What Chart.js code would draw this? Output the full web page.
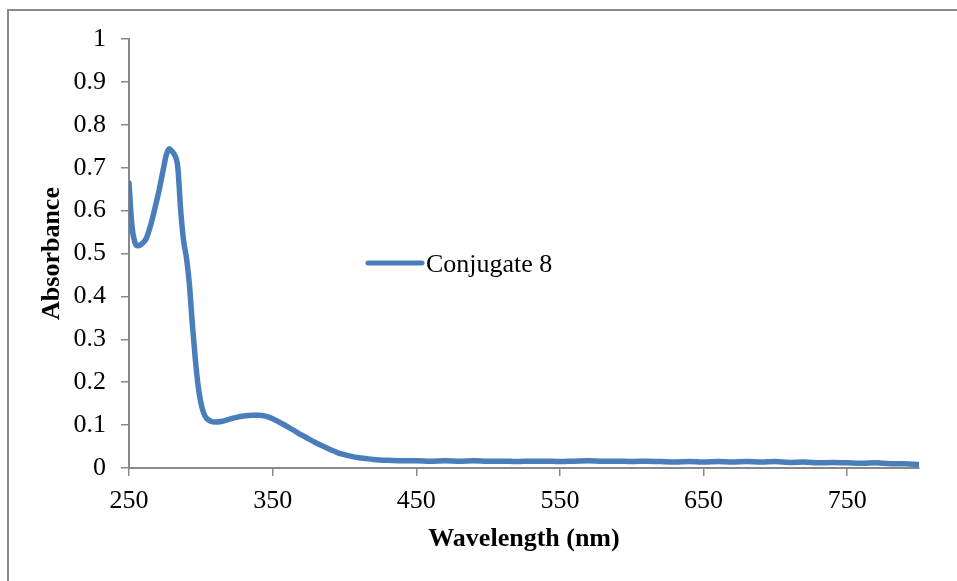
<!DOCTYPE html>
<html>
<head>
<meta charset="utf-8">
<script src="https://cdn.jsdelivr.net/npm/chart.js@4.4.0/dist/chart.umd.min.js"></script>
<style>
  html, body { margin: 0; padding: 0; background: #fff; overflow: hidden; }
  #wrap { position: relative; width: 957px; height: 581px; }
  #frame { position: absolute; left: 7px; top: 9px; width: 1000px; height: 700px; border: 2px solid #8a8a8a; }
  #chart { position: absolute; left: 0; top: 0; }
</style>
</head>
<body>
<div id="wrap">
  <div id="frame"></div>
  <canvas id="chart" width="957" height="581"></canvas>
</div>
<script>
// --- Dados do espectro ---
const wavelengths = [
  250, 252, 254, 256, 258, 260, 262, 265, 268, 271, 274, 276, 278, 280, 282, 284, 286, 288, 290, 292,
  294, 296, 298, 300, 302, 304, 307, 310, 315, 320, 325, 330, 335, 340, 345, 350, 355, 360, 365, 370, 375,
  380, 385, 390, 395, 400, 405, 410, 415, 420, 430, 440, 450, 460, 470, 480, 490, 500, 510, 520, 530,
  540, 550, 560, 570, 580, 590, 600, 610, 620, 630, 640, 650, 660, 670, 680, 690, 700, 710, 720, 730,
  740, 750, 760, 770, 780, 790, 800
];
const absorbance = [
  0.665, 0.565, 0.527, 0.518, 0.520, 0.526, 0.535, 0.565, 0.605, 0.648, 0.698, 0.730, 0.744, 0.738, 0.728, 0.700, 0.600, 0.530, 0.490, 0.430,
  0.340, 0.260, 0.195, 0.153, 0.128, 0.116, 0.109, 0.107, 0.109, 0.114, 0.118, 0.121, 0.123, 0.123, 0.121, 0.115, 0.106, 0.097, 0.087, 0.077, 0.068,
  0.059, 0.051, 0.043, 0.036, 0.031, 0.027, 0.024, 0.022, 0.020, 0.018, 0.017, 0.017, 0.016, 0.017, 0.016, 0.017, 0.016, 0.016, 0.015, 0.016,
  0.016, 0.015, 0.016, 0.017, 0.016, 0.016, 0.015, 0.016, 0.015, 0.014, 0.015, 0.014, 0.015, 0.014, 0.015, 0.014, 0.015, 0.013, 0.014, 0.012,
  0.013, 0.012, 0.011, 0.012, 0.010, 0.010, 0.008
];
const xTicks = [250, 350, 450, 550, 650, 750];
const yTicks = [0, 0.1, 0.2, 0.3, 0.4, 0.5, 0.6, 0.7, 0.8, 0.9, 1];
const seriesName = 'Conjugate 8';

const lineColor = '#4a7ebb';
const axisColor = '#898989';
const serif = '"Liberation Serif", "Times New Roman", serif';

// legenda desenhada dentro da área do gráfico
const insideLegend = {
  id: 'insideLegend',
  afterDraw(chart) {
    const { ctx, chartArea } = chart;
    const x = chartArea.left + 239;
    const y = 263;
    ctx.save();
    ctx.strokeStyle = lineColor;
    ctx.lineWidth = 5;
    ctx.lineCap = 'round';
    ctx.beginPath();
    ctx.moveTo(x, y);
    ctx.lineTo(x + 54, y);
    ctx.stroke();
    ctx.fillStyle = '#000';
    ctx.font = '26px ' + serif;
    ctx.textBaseline = 'alphabetic';
    ctx.fillText(seriesName, x + 58, y + 9);
    ctx.restore();
  }
};

const ctx = document.getElementById('chart').getContext('2d');
new Chart(ctx, {
  type: 'line',
  data: {
    datasets: [{
      label: seriesName,
      data: wavelengths.map((w, i) => ({ x: w, y: absorbance[i] })),
      borderColor: lineColor,
      borderWidth: 5.5,
      pointRadius: 0,
      cubicInterpolationMode: 'monotone',
      borderCapStyle: 'round',
      borderJoinStyle: 'round',
      fill: false
    }]
  },
  options: {
    responsive: false,
    animation: false,
    layout: { padding: { left: 0, top: 39, right: 38, bottom: 0 } },
    plugins: { legend: { display: false }, tooltip: { enabled: false } },
    scales: {
      x: {
        type: 'linear',
        min: 250,
        max: 800,
        afterBuildTicks: scale => { scale.ticks = xTicks.map(v => ({ value: v })); },
        afterFit: scale => { scale.height = 113; },
        grid: { drawOnChartArea: false, drawTicks: true, tickLength: 8, color: axisColor, lineWidth: 1.5 },
        border: { color: axisColor, width: 2 },
        ticks: { color: '#000', font: { family: serif, size: 26 }, padding: 10, maxRotation: 0 },
        title: { display: true, text: 'Wavelength (nm)', color: '#000', font: { family: serif, size: 26, weight: 'bold' }, padding: { top: 0, bottom: 26 } }
      },
      y: {
        min: 0,
        max: 1,
        afterBuildTicks: scale => { scale.ticks = yTicks.map(v => ({ value: v })); },
        afterFit: scale => { scale.width = 129; },
        grid: { drawOnChartArea: false, drawTicks: true, tickLength: 8, color: axisColor, lineWidth: 1.5 },
        border: { color: axisColor, width: 2 },
        ticks: { color: '#000', font: { family: serif, size: 26 }, padding: 15, callback: v => String(v) },
        title: { display: true, text: 'Absorbance', color: '#000', font: { family: serif, size: 26, weight: 'bold' }, padding: { top: 37, bottom: 0 } }
      }
    }
  },
  plugins: [insideLegend]
});
</script>
</body>
</html>
